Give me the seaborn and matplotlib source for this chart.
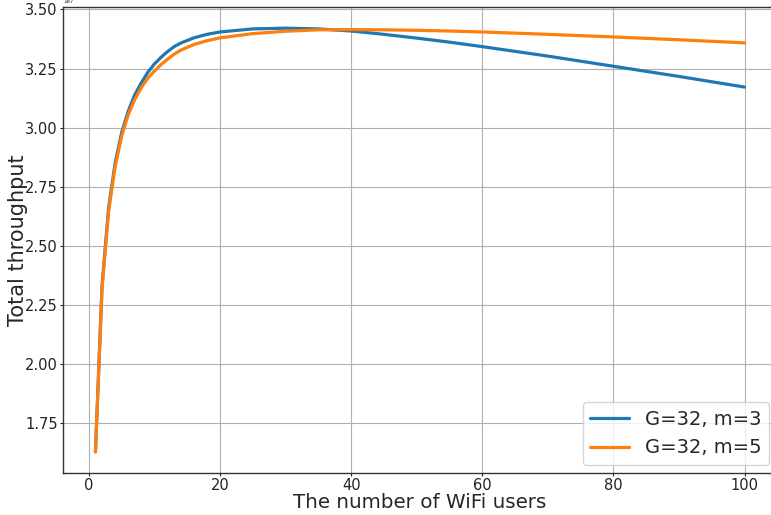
import matplotlib as mpl
mpl.use('Agg')
import matplotlib.pyplot as plt
import numpy as np
import pandas as pd
import seaborn as sns

users = [1, 2, 3, 4, 5, 6, 7, 8, 9, 10, 11, 12, 13, 14, 16, 18, 20, 25, 30,
         35, 40, 45, 50, 55, 60, 70, 80, 90, 100]

# total throughput in units of 1e7
thr_m3 = [1.630, 2.330, 2.660, 2.850, 2.980, 3.070, 3.140, 3.190, 3.235,
          3.270, 3.298, 3.322, 3.343, 3.358, 3.380, 3.395, 3.405, 3.418,
          3.421, 3.418, 3.409, 3.395, 3.379, 3.362, 3.343, 3.303, 3.260,
          3.217, 3.172]
thr_m5 = [1.630, 2.320, 2.645, 2.835, 2.965, 3.055, 3.120, 3.170, 3.210,
          3.240, 3.267, 3.290, 3.311, 3.328, 3.352, 3.368, 3.380, 3.398,
          3.408, 3.414, 3.415, 3.414, 3.412, 3.409, 3.405, 3.395, 3.384,
          3.372, 3.359]

labels = ['G=32, m=3', 'G=32, m=5']


def save_graph():
    df = pd.concat([
        pd.DataFrame({'users': users, 'thr': np.array(thr_m3) * 1e7, 'cfg': labels[0]}),
        pd.DataFrame({'users': users, 'thr': np.array(thr_m5) * 1e7, 'cfg': labels[1]}),
    ])

    sns.set_style('ticks')
    plt.rcParams['font.family'] = ['DejaVu Sans']

    fig = plt.figure(figsize=(7.71, 5.15), dpi=100)
    ax = fig.add_axes([63/771, 1 - 473/515, (777 - 63)/771, (473 - 7)/515])

    sns.lineplot(data=df, x='users', y='thr', hue='cfg',
                 palette=['#1f77b4', '#ff7f0e'], linewidth=2.3, ax=ax)

    ax.grid(True, color='#b0b0b0', linewidth=0.8)
    ax.set_axisbelow(True)
    for s in ax.spines.values():
        s.set_color('#333333')
        s.set_linewidth(1.0)

    ax.set_xticks([0, 20, 40, 60, 80, 100])
    ax.set_yticks(np.arange(1.75, 3.51, 0.25) * 1e7)
    ax.tick_params(labelsize=10.5, colors='#222222', length=2.5, pad=1.2)
    ax.yaxis.get_offset_text().set_fontsize(4)

    ax.set_xlabel('The number of WiFi users', fontsize=14.3)
    ax.set_ylabel('Total throughput', fontsize=15)
    ax.xaxis.set_label_coords(0.5, -0.043)
    ax.yaxis.set_label_coords(-0.049, 0.5)

    h, l = ax.get_legend_handles_labels()
    ax.legend(handles=h, labels=l, loc='lower right', fontsize=14, title=None,
              frameon=True, borderaxespad=0.4)

    fig.savefig('out.png', dpi=100)


if __name__ == "__main__":
    save_graph()
